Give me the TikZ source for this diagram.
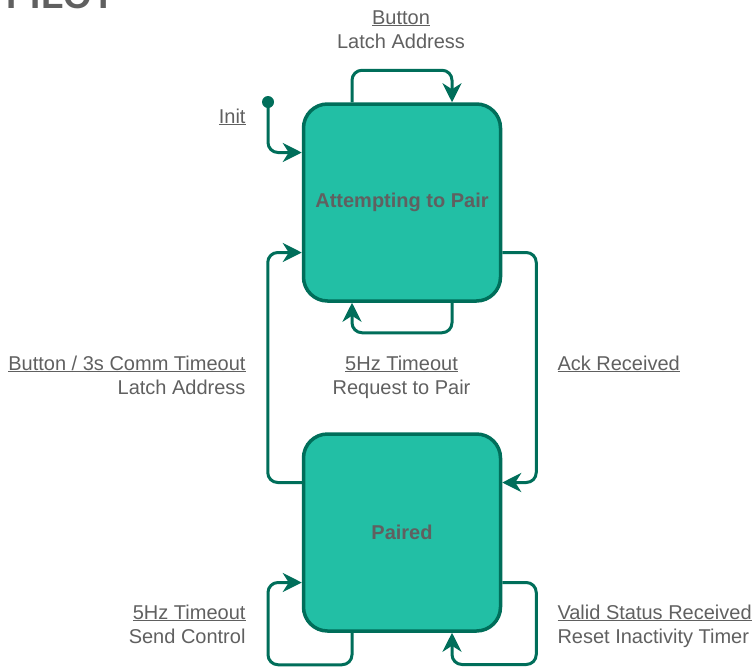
\documentclass[tikz,border=0pt]{standalone}
\usepackage{fontspec}
\setmainfont{Liberation Sans}
\usetikzlibrary{arrows.meta,positioning}
\definecolor{stfill}{RGB}{34,191,165}
\definecolor{stline}{RGB}{0,110,90}
\definecolor{lbl}{RGB}{96,96,96}
\begin{document}
\begin{tikzpicture}[x=1pt, y=-1pt, ->, >={Stealth[length=19pt,width=19pt,inset=6pt]},
  line width=3pt, color=stline, rounded corners=10pt,
  state/.style={draw=stline, fill=stfill, line width=3.5pt, rounded corners=24pt,
    minimum width=197pt, minimum height=197pt, text=lbl, font=\bfseries\fontsize{20}{24}\selectfont},
  lab/.style={text=lbl, font=\fontsize{20}{24}\selectfont, inner sep=0pt},
  dot/.style={circle, fill=stline, inner sep=0pt, minimum size=12pt}]

		\clip[sharp corners] (0,0) rectangle (754,667);

		\node[anchor=base west, inner sep=0pt, text=lbl, font=\bfseries\fontsize{36.7}{40}\selectfont] (title) at (5,8) {PILOT};

		\node[state] (attempt) at (402,202.5) {Attempting to Pair};
		\node[state] (paired) [below=129.5pt of attempt] {Paired};
		\node[dot] (init) at (268,102) {};

		\node[lab, anchor=base, align=center] (btnlab) at (401,48) {\underline{Button}\\Latch Address};
		\node[lab, anchor=base east] (initlab) at (247,123) {\underline{Init}};
		\node[lab, anchor=base east, align=right] (backlab) at (247,394) {\underline{Button / 3s Comm Timeout}\\Latch Address};
		\node[lab, anchor=base, align=center] (reqlab) at (401.5,394) {\underline{5Hz Timeout}\\Request to Pair};
		\node[lab, anchor=base west] (acklab) at (556,370) {\underline{Ack Received}};
		\node[lab, anchor=base east, align=right] (sendlab) at (247,643) {\underline{5Hz Timeout}\\Send Control};
		\node[lab, anchor=base west, align=left] (validlab) at (556,643) {\underline{Valid Status Received}\\Reset Inactivity Timer};

		\draw (init.center) |- ([yshift=50pt]attempt.west);
		\draw ([xshift=-50pt]attempt.north) -- ++(0,-32) -| ([xshift=50pt]attempt.north);
		\draw ([xshift=50pt]attempt.south) -- ++(0,30) -| ([xshift=-50pt]attempt.south);
		\draw ([yshift=-50pt]attempt.east) -- ++(34,0) |- ([yshift=50pt]paired.east);
		\draw ([yshift=50pt]paired.west) -- ++(-34,0) |- ([yshift=-50pt]attempt.west);
		\draw ([xshift=-50pt]paired.south) -- ++(0,32) -- ++(-84,0) |- ([yshift=-50pt]paired.west);
		\draw ([yshift=-50pt]paired.east) -- ++(34,0) -- ++(0,82) -| ([xshift=50pt]paired.south);

\end{tikzpicture}
\end{document}
